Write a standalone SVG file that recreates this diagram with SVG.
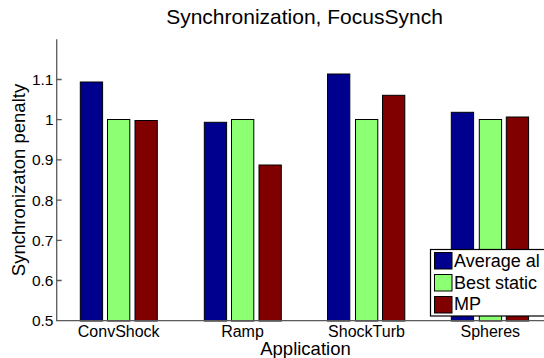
<svg xmlns="http://www.w3.org/2000/svg" width="544" height="358" viewBox="0 0 544 358">
  <style>
    text { font-family: "Liberation Sans", Arial, sans-serif; fill: #000; }
    .tick { font-size: 15.5px; text-anchor: end; }
    .cat { font-size: 16px; text-anchor: middle; }
    .lbl { font-size: 18.5px; text-anchor: middle; }
    .title { font-size: 21px; text-anchor: middle; }
    .leg { font-size: 18px; }
    .axis { stroke: #5a5a5a; stroke-width: 1.3; fill: none; }
    .bar { stroke: #000; stroke-width: 1; }
    .avg { fill: #00008f; }
    .best { fill: #8cff72; }
    .mp { fill: #800000; }
  </style>

  <rect width="544" height="358" fill="#fff"/>

  <text class="title" x="304.5" y="24">Synchronization, FocusSynch</text>

  <!-- bars, baseline at y = 320.7 -->
  <g id="bars">
    <g id="convshock">
      <rect class="bar avg" x="80.3" y="82" width="22.3" height="239"/>
      <rect class="bar best" x="107.5" y="119.5" width="22.3" height="201.5"/>
      <rect class="bar mp" x="135" y="120.5" width="22.3" height="200.5"/>
    </g>
    <g id="ramp">
      <rect class="bar avg" x="204.3" y="122.3" width="22.3" height="198.7"/>
      <rect class="bar best" x="231.5" y="119.5" width="22.3" height="201.5"/>
      <rect class="bar mp" x="259" y="165" width="22.3" height="156"/>
    </g>
    <g id="shockturb">
      <rect class="bar avg" x="327.5" y="74" width="22.3" height="247"/>
      <rect class="bar best" x="355.5" y="119.5" width="22.3" height="201.5"/>
      <rect class="bar mp" x="382.5" y="95.3" width="22.3" height="225.7"/>
    </g>
    <g id="spheres">
      <rect class="bar avg" x="451.3" y="112.3" width="22.3" height="208.7"/>
      <rect class="bar best" x="479.3" y="119.5" width="22.3" height="201.5"/>
      <rect class="bar mp" x="506.3" y="117" width="22.3" height="204"/>
    </g>
  </g>

  <!-- axes -->
  <g id="axes">
    <path class="axis" d="M56.7 39.3 V320.7 H544"/>
    <path class="axis" d="M56.7 79.5 h5 M56.7 119.7 h5 M56.7 159.9 h5 M56.7 200.1 h5 M56.7 240.3 h5 M56.7 280.5 h5"/>
    <text class="tick" x="53.5" y="85">1.1</text>
    <text class="tick" x="53.5" y="125.2">1</text>
    <text class="tick" x="53.5" y="165.4">0.9</text>
    <text class="tick" x="53.5" y="205.6">0.8</text>
    <text class="tick" x="53.5" y="245.8">0.7</text>
    <text class="tick" x="53.5" y="286">0.6</text>
    <text class="tick" x="53.5" y="326.2">0.5</text>
    <text class="cat" x="118.7" y="337">ConvShock</text>
    <text class="cat" x="242.5" y="337">Ramp</text>
    <text class="cat" x="366.5" y="337">ShockTurb</text>
    <text class="cat" x="490.3" y="337">Spheres</text>
    <text class="lbl" x="305.5" y="355">Application</text>
    <text class="lbl" transform="translate(25 180) rotate(-90)">Synchronizaton penalty</text>
  </g>

  <!-- legend -->
  <g id="legend">
    <rect x="430.5" y="249.5" width="120" height="66.5" fill="#fff" stroke="#000" stroke-width="1.2"/>
    <rect class="bar avg" x="434.5" y="252.5" width="17.5" height="16.5"/>
    <rect class="bar best" x="434.5" y="274.5" width="17.5" height="16.5"/>
    <rect class="bar mp" x="434.5" y="296.5" width="17.5" height="16.5"/>
    <text class="leg" x="454" y="267">Average al</text>
    <text class="leg" x="454" y="288.5">Best static</text>
    <text class="leg" x="454" y="310">MP</text>
  </g>
</svg>
